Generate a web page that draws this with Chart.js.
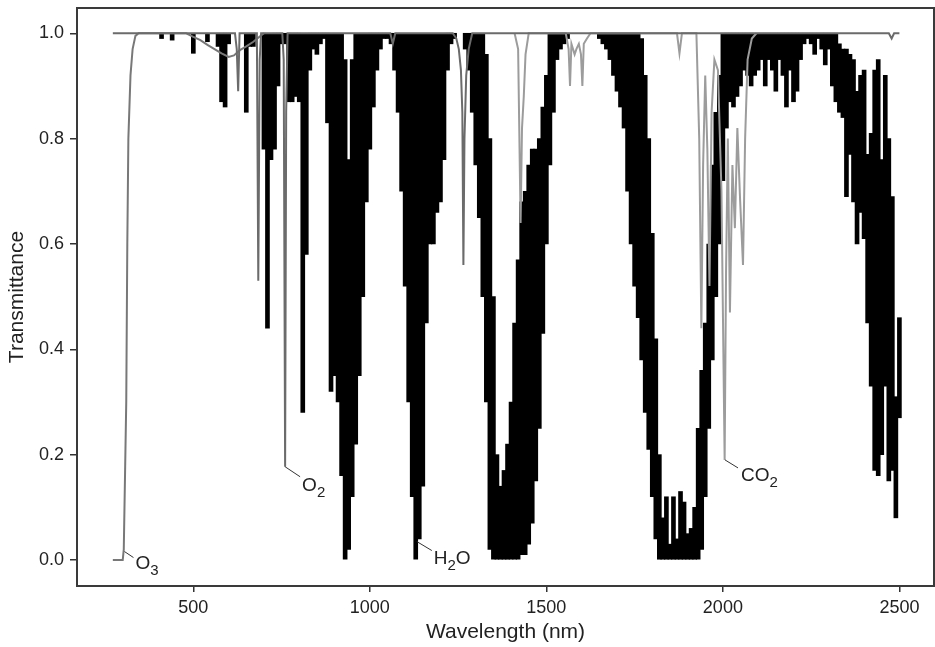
<!DOCTYPE html>
<html>
<head>
<meta charset="utf-8">
<title>Atmospheric transmittance</title>
<script src="https://cdn.jsdelivr.net/npm/chart.js@4.4.1/dist/chart.umd.min.js"></script>
<style>
  html, body { margin: 0; padding: 0; background: #fff; }
  #chart { display: block; }
</style>
</head>
<body>
<canvas id="chart" width="935" height="647"></canvas>
<script>
// ---- values ----
const xTicks = [500, 1000, 1500, 2000, 2500];
const yTicks = [0, 0.2, 0.4, 0.6, 0.8, 1.0];

// H2O: the line is so dense that each 10 nm bin shows up as a solid
// stroke from its lowest to its highest transmittance
const waterNm = [
  410, 440, 500, 540, 570, 580, 590, 600, 650, 660,
  670, 700, 710, 720, 730, 740, 750, 760, 770, 780,
  790, 800, 810, 820, 830, 840, 850, 860, 870, 880,
  890, 900, 910, 920, 930, 940, 950, 960, 970, 980,
  990, 1000, 1010, 1020, 1030, 1040, 1050, 1060, 1070, 1080,
  1090, 1100, 1110, 1120, 1130, 1140, 1150, 1160, 1170, 1180,
  1190, 1200, 1210, 1220, 1230, 1240, 1270, 1280, 1290, 1300,
  1310, 1320, 1330, 1340, 1350, 1360, 1370, 1380, 1390, 1400,
  1410, 1420, 1430, 1440, 1450, 1460, 1470, 1480, 1490, 1500,
  1510, 1520, 1530, 1540, 1550, 1560, 1650, 1660, 1670, 1680,
  1690, 1700, 1710, 1720, 1730, 1740, 1750, 1760, 1770, 1780,
  1790, 1800, 1810, 1820, 1830, 1840, 1850, 1860, 1870, 1880,
  1890, 1900, 1910, 1920, 1930, 1940, 1950, 1960, 1970, 1980,
  1990, 2000, 2010, 2020, 2030, 2040, 2050, 2060, 2070, 2080,
  2090, 2100, 2110, 2120, 2130, 2140, 2150, 2160, 2170, 2180,
  2190, 2200, 2210, 2220, 2230, 2240, 2250, 2260, 2270, 2280,
  2290, 2300, 2310, 2320, 2330, 2340, 2350, 2360, 2370, 2380,
  2390, 2400, 2410, 2420, 2430, 2440, 2450, 2460, 2470, 2480,
  2490, 2500
];
const waterLow = [
  0.99, 0.987, 0.962, 0.984, 0.975, 0.87, 0.86, 0.98, 0.85, 0.975,
  0.975, 0.78, 0.44, 0.76, 0.78, 0.9, 0.98, 0.98, 0.87, 0.87,
  0.88, 0.87, 0.28, 0.58, 0.93, 0.97, 0.96, 0.98, 0.99, 0.83,
  0.32, 0.35, 0.3, 0.16, 0, 0.02, 0.12, 0.22, 0.35, 0.5,
  0.68, 0.78, 0.86, 0.93, 0.97, 0.99, 0.99, 0.98, 0.93, 0.85,
  0.7, 0.52, 0.3, 0.12, 0, 0.04, 0.14, 0.45, 0.6, 0.6,
  0.66, 0.68, 0.76, 0.93, 0.98, 0.99, 0.97, 0.93, 0.85, 0.75,
  0.65, 0.5, 0.3, 0.02, 0, 0, 0, 0, 0, 0,
  0, 0, 0.01, 0.01, 0.03, 0.07, 0.15, 0.25, 0.43, 0.6,
  0.75, 0.85, 0.95, 0.97, 0.98, 0.99, 0.99, 0.98, 0.97, 0.95,
  0.92, 0.89, 0.86, 0.82, 0.7, 0.6, 0.52, 0.46, 0.38, 0.28,
  0.21, 0.12, 0.04, 0, 0, 0, 0, 0, 0, 0,
  0, 0, 0, 0, 0, 0.02, 0.12, 0.25, 0.38, 0.5,
  0.6, 0.72, 0.82, 0.87, 0.86, 0.88, 0.9, 0.93, 0.92, 0.9,
  0.92, 0.93, 0.95, 0.9, 0.95, 0.93, 0.89, 0.95, 0.92, 0.86,
  0.93, 0.87, 0.89, 0.95, 0.98, 0.99, 0.98, 0.96, 0.99, 0.97,
  0.94, 0.97, 0.9, 0.87, 0.85, 0.84, 0.69, 0.77, 0.68, 0.6,
  0.66, 0.61, 0.45, 0.33, 0.17, 0.16, 0.2, 0.33, 0.15, 0.17,
  0.08, 0.27
];
const waterHigh = [
  1, 1, 1, 1, 1, 1, 1, 1, 1, 1,
  1, 1, 1, 1, 1, 1, 1, 1, 1, 1,
  1, 1, 1, 1, 1, 1, 1, 1, 1, 1,
  1, 1, 1, 1, 0.95, 0.76, 0.95, 1, 1, 1,
  1, 1, 1, 1, 1, 1, 1, 1, 1, 1,
  1, 1, 1, 1, 1, 1, 1, 1, 1, 1,
  1, 1, 1, 1, 1, 1, 1, 1, 1, 1,
  1, 1, 0.96, 0.8, 0.5, 0.2, 0.14, 0.17, 0.22, 0.3,
  0.45, 0.57, 0.68, 0.7, 0.75, 0.78, 0.78, 0.8, 0.86, 0.92,
  1, 1, 1, 1, 1, 1, 1, 1, 1, 1,
  1, 1, 1, 1, 1, 1, 1, 1, 0.99, 0.92,
  0.8, 0.62, 0.42, 0.2, 0.08, 0.12, 0.03, 0.12, 0.04, 0.13,
  0.11, 0.05, 0.06, 0.1, 0.25, 0.36, 0.45, 0.6, 0.75, 0.85,
  0.92, 1, 1, 1, 1, 1, 1, 1, 1, 1,
  1, 1, 1, 1, 1, 1, 1, 1, 1, 1,
  1, 1, 1, 1, 1, 1, 1, 1, 1, 1,
  1, 1, 1, 1, 0.98, 0.97, 0.97, 0.96, 0.95, 0.89,
  0.92, 0.93, 0.77, 0.81, 0.93, 0.95, 0.76, 0.92, 0.8, 0.69,
  0.31, 0.46
];

// O3: UV cut-off and the shallow Chappuis band
const ozoneNm = [272, 300, 303, 307, 310, 313, 316, 322, 328, 336, 345, 480,
  500, 520, 540, 560, 580, 600, 615, 632, 650, 670, 690, 700];
const ozoneT = [0, 0, 0.02, 0.18, 0.3, 0.6, 0.8, 0.92, 0.97, 0.995, 1, 1,
  0.993, 0.987, 0.978, 0.97, 0.962, 0.955, 0.958, 0.968, 0.975, 0.984, 0.995, 1];

// O2 (and the flat top of the mixed-gas curve)
const oxygenNm = [272, 618, 623, 627, 631, 680, 684, 688, 692, 752,
  756, 760, 763, 767, 1058, 1065, 1072, 1235, 1245, 1252,
  1258, 1262, 1265, 1268, 1273, 1280, 1290, 2470, 2478, 2485, 2500];
const oxygenT = [1, 1, 0.97, 0.89, 1, 1, 0.53, 0.95, 1, 1,
  0.95, 0.177, 0.85, 1, 1, 0.98, 1, 1, 0.99, 0.97,
  0.93, 0.85, 0.56, 0.8, 0.92, 0.97, 1, 1, 0.99, 1, 1];

// CO2
const co2Nm = [1410, 1420, 1427, 1431, 1436, 1441, 1450, 1555, 1563, 1567,
  1571, 1580, 1585, 1592, 1598, 1602, 1606, 1615, 1625, 1870,
  1877, 1884, 1925, 1933, 1939, 1944, 1950, 1956, 1962, 1968,
  1976, 1986, 1996, 2005, 2009, 2014, 2020, 2027, 2034, 2041,
  2049, 2057, 2063, 2070, 2082, 2095];
const co2T = [1, 0.97, 0.64, 0.82, 0.88, 0.96, 1, 1, 0.97, 0.9,
  0.98, 0.96, 0.97, 0.98, 0.96, 0.9, 0.98, 0.99, 1, 1,
  0.962, 1, 1, 0.8, 0.44, 0.75, 0.92, 0.78, 0.52, 0.85,
  0.95, 0.93, 0.7, 0.19, 0.55, 0.8, 0.47, 0.75, 0.63, 0.82,
  0.68, 0.56, 0.8, 0.95, 0.99, 1];

// gas labels, anchored on the curve
const labelText = ['O3', 'O2', 'H2O', 'CO2'];
const labelNm = [305, 760, 1133, 2006];
const labelT = [0.016, 0.177, 0.035, 0.19];

function pts(xs, ys) {
  return xs.map((v, i) => ({ x: v, y: ys[i] }));
}

// frame round the plot and the little leader-line labels
const frameAndLabels = {
  id: 'frameAndLabels',
  afterDatasetsDraw(chart) {
    const { ctx, chartArea: a, scales: { x, y } } = chart;
    ctx.save();
    ctx.strokeStyle = '#3a3a3a';
    ctx.lineWidth = 2;
    ctx.strokeRect(a.left, a.top, a.right - a.left, a.bottom - a.top);

    // [leader dx, leader dy, text gap, baseline drop]
    const lead = [[9, 6, 2, 11], [15, 10, 2, 14], [15, 9, 2, 13], [13, 8, 3, 13]];
    ctx.fillStyle = '#222';
    ctx.strokeStyle = '#333';
    ctx.lineWidth = 1;
    ctx.textBaseline = 'alphabetic';
    labelText.forEach((t, i) => {
      const px = x.getPixelForValue(labelNm[i]);
      const py = y.getPixelForValue(labelT[i]);
      const [dx, dy, gap, drop] = lead[i];
      ctx.beginPath();
      ctx.moveTo(px, py);
      ctx.lineTo(px + dx, py + dy);
      ctx.stroke();
      let cx = px + dx + gap;
      const base = py + dy + drop;
      for (const ch of t) {
        const sub = /\d/.test(ch);
        ctx.font = (sub ? '15px' : '19px') + ' "Liberation Sans", Arial, sans-serif';
        ctx.fillText(ch, cx, sub ? base + 6 : base);
        cx += ctx.measureText(ch).width;
      }
    });
    ctx.restore();
  }
};

Chart.defaults.font.family = '"Liberation Sans", Arial, sans-serif';
Chart.defaults.font.size = 18;
Chart.defaults.color = '#222';

new Chart(document.getElementById('chart'), {
  type: 'line',
  data: {
    datasets: [
      {
        label: 'O2',
        data: pts(oxygenNm, oxygenT),
        borderColor: '#6b6b6b',
        borderWidth: 2,
        pointRadius: 0,
        tension: 0,
        order: 0
      },
      {
        label: 'O3',
        data: pts(ozoneNm, ozoneT),
        borderColor: '#787878',
        borderWidth: 2,
        pointRadius: 0,
        tension: 0,
        order: 1
      },
      {
        label: 'CO2',
        data: pts(co2Nm, co2T),
        borderColor: '#9c9c9c',
        borderWidth: 2,
        pointRadius: 0,
        tension: 0,
        order: 2
      },
      {
        type: 'bar',
        label: 'H2O',
        data: waterNm.map((v, i) => ({ x: v, y: [waterLow[i], waterHigh[i]] })),
        backgroundColor: '#000',
        borderWidth: 0,
        barThickness: 4,
        order: 3
      }
    ]
  },
  options: {
    responsive: false,
    animation: false,
    devicePixelRatio: 1,
    events: [],
    layout: { padding: { top: 8, right: 1, left: 0, bottom: 0 } },
    plugins: { legend: { display: false }, tooltip: { enabled: false } },
    scales: {
      x: {
        type: 'linear',
        min: 170.5,
        max: 2598,
        offset: false,
        afterBuildTicks: s => { s.ticks = xTicks.map(v => ({ value: v })); },
        afterFit: s => { s.height = 61; s.paddingLeft = 0; s.paddingRight = 0; },
        ticks: { padding: 5, autoSkip: false, maxRotation: 0, callback: v => String(v) },
        grid: { drawOnChartArea: false, drawTicks: true, tickLength: 6, color: '#333', lineWidth: 1.5, offset: false },
        border: { display: false },
        title: { display: true, text: 'Wavelength (nm)', font: { size: 21 }, padding: { top: 0, bottom: 2 } }
      },
      y: {
        type: 'linear',
        min: -0.0494,
        max: 1.048,
        afterBuildTicks: s => { s.ticks = yTicks.map(v => ({ value: v })); },
        afterFit: s => { s.width = 77; s.paddingTop = 0; s.paddingBottom = 0; },
        ticks: { padding: 6, callback: v => v.toFixed(1) },
        grid: { drawOnChartArea: false, drawTicks: true, tickLength: 7, color: '#333', lineWidth: 1.5 },
        border: { display: false },
        title: { display: true, text: 'Transmittance', font: { size: 21 }, padding: { top: 5, bottom: 0 } }
      }
    }
  },
  plugins: [frameAndLabels]
});
</script>
</body>
</html>
